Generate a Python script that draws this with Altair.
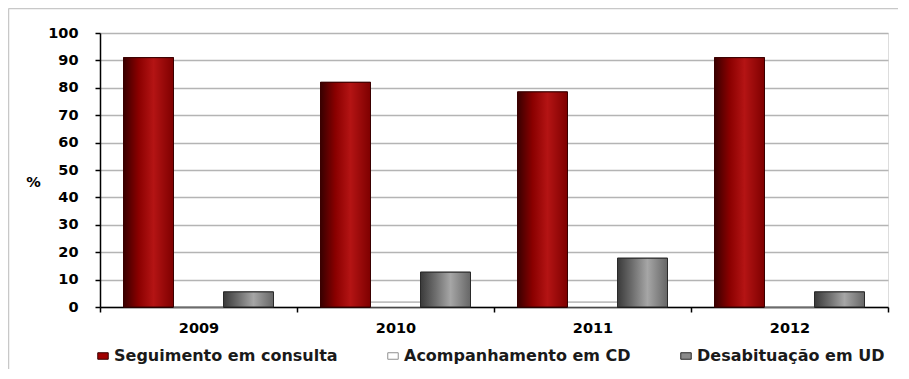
import altair as alt
import pandas as pd

years = ["2009", "2010", "2011", "2012"]
series = ["Seguimento em consulta", "Acompanhamento em CD", "Desabituação em UD"]
seguimento = [91, 82, 78.5, 91]
acompanhamento = [0, 1.8, 1.8, 0]
desabituacao = [5.5, 12.7, 17.8, 5.5]
y_ticks = list(range(0, 101, 10))

rows = []
for i, yr in enumerate(years):
    rows.append({"ano": yr, "serie": series[0], "valor": seguimento[i]})
    rows.append({"ano": yr, "serie": series[1], "valor": acompanhamento[i]})
    rows.append({"ano": yr, "serie": series[2], "valor": desabituacao[i]})
df = pd.DataFrame(rows)

FONT = "DejaVu Sans"
W, H = 788, 274

x_enc = alt.X(
    "ano:N",
    sort=years,
    scale=alt.Scale(paddingInner=0, paddingOuter=0),
    axis=alt.Axis(
        title=None, labelAngle=0, tickBand="extent", domainColor="black",
        domainWidth=1.5, tickColor="black", tickWidth=1.5, tickSize=5,
        labelPadding=9, labelFont=FONT, labelFontWeight="bold",
        labelFontSize=14.5, labelColor="black", grid=False,
    ),
)
xo_enc = alt.XOffset(
    "serie:N", sort=series,
    scale=alt.Scale(domain=series, paddingInner=0, paddingOuter=0.47),
)
y_enc = alt.Y(
    "valor:Q",
    scale=alt.Scale(domain=[0, 100], nice=False),
    axis=alt.Axis(
        values=y_ticks, title="%", titleAngle=0, titleX=-67, titleY=149,
        titleAlign="center", titleBaseline="middle", titleFont=FONT,
        titleFontWeight="bold", titleFontSize=14.5, titleColor="black",
        domainColor="black", domainWidth=1.5, tickColor="black", tickWidth=1.5,
        tickSize=5, labelPadding=17, labelFont=FONT, labelFontWeight="bold",
        labelFontSize=14.5, labelColor="black", gridColor="#b4b4b4", gridWidth=1.5,
    ),
)

leg = alt.Legend(
    title=None, orient="none", legendX=-5, legendY=315,
    direction="horizontal", columns=3, columnPadding=47,
    symbolType="M-1,-0.62H1V0.62H-1Z", symbolSize=110,
    symbolStrokeWidth=1, labelFont=FONT, labelFontSize=16,
    labelFontWeight="bold", labelColor="#1a1a1a", labelOffset=3,
    labelLimit=500, symbolOffset=0,
)

base = alt.Chart(df).mark_bar(strokeWidth=1).encode(
    x=x_enc, xOffset=xo_enc, y=y_enc,
    color=alt.Color(
        "serie:N", sort=series,
        scale=alt.Scale(domain=series, range=["#a00000", "#ffffff", "#8a8a8a"]),
        legend=leg,
    ),
    stroke=alt.Stroke(
        "serie:N", sort=series,
        scale=alt.Scale(domain=series, range=["#3a0000", "#909090", "#2a2a2a"]),
        legend=leg,
    ),
)

red_grad = alt.LinearGradient(
    gradient="linear", x1=0, x2=1, y1=0, y2=0,
    stops=[
        alt.GradientStop(offset=0, color="#380000"),
        alt.GradientStop(offset=0.3, color="#8a0000"),
        alt.GradientStop(offset=0.6, color="#b41414"),
        alt.GradientStop(offset=1, color="#7e0000"),
    ],
)
gray_grad = alt.LinearGradient(
    gradient="linear", x1=0, x2=1, y1=0, y2=0,
    stops=[
        alt.GradientStop(offset=0, color="#3a3a3a"),
        alt.GradientStop(offset=0.3, color="#6e6e6e"),
        alt.GradientStop(offset=0.6, color="#a6a6a6"),
        alt.GradientStop(offset=1, color="#666666"),
    ],
)

red = alt.Chart(df).transform_filter(
    alt.datum.serie == series[0]
).mark_bar(fill=red_grad, stroke="#3a0000", strokeWidth=1).encode(
    x=x_enc, xOffset=xo_enc, y=y_enc
)
gray = alt.Chart(df).transform_filter(
    alt.datum.serie == series[2]
).mark_bar(fill=gray_grad, stroke="#2a2a2a", strokeWidth=1).encode(
    x=x_enc, xOffset=xo_enc, y=y_enc
)

one = alt.Data(values=[{"k": 1}])
frame_left = alt.Chart(one).mark_rule(color="#c8c8c8", strokeWidth=1.5).encode(
    x=alt.value(-91.5), y=alt.value(-24.5), y2=alt.value(H + 70)
)
frame_top = alt.Chart(one).mark_rule(color="#c8c8c8", strokeWidth=1.5).encode(
    x=alt.value(-91.5), x2=alt.value(W + 10), y=alt.value(-24.5)
)

chart = alt.layer(base, red, gray, frame_left, frame_top).properties(
    width=W, height=H,
    autosize=alt.AutoSizeParams(type="none"),
    padding={"left": 92, "top": 25, "right": 12, "bottom": 62},
).configure_view(
    stroke="#a8a8a8", strokeWidth=1.5
).configure(background="white")

chart.save("out.html", embed_options={"renderer": "svg", "actions": False})
